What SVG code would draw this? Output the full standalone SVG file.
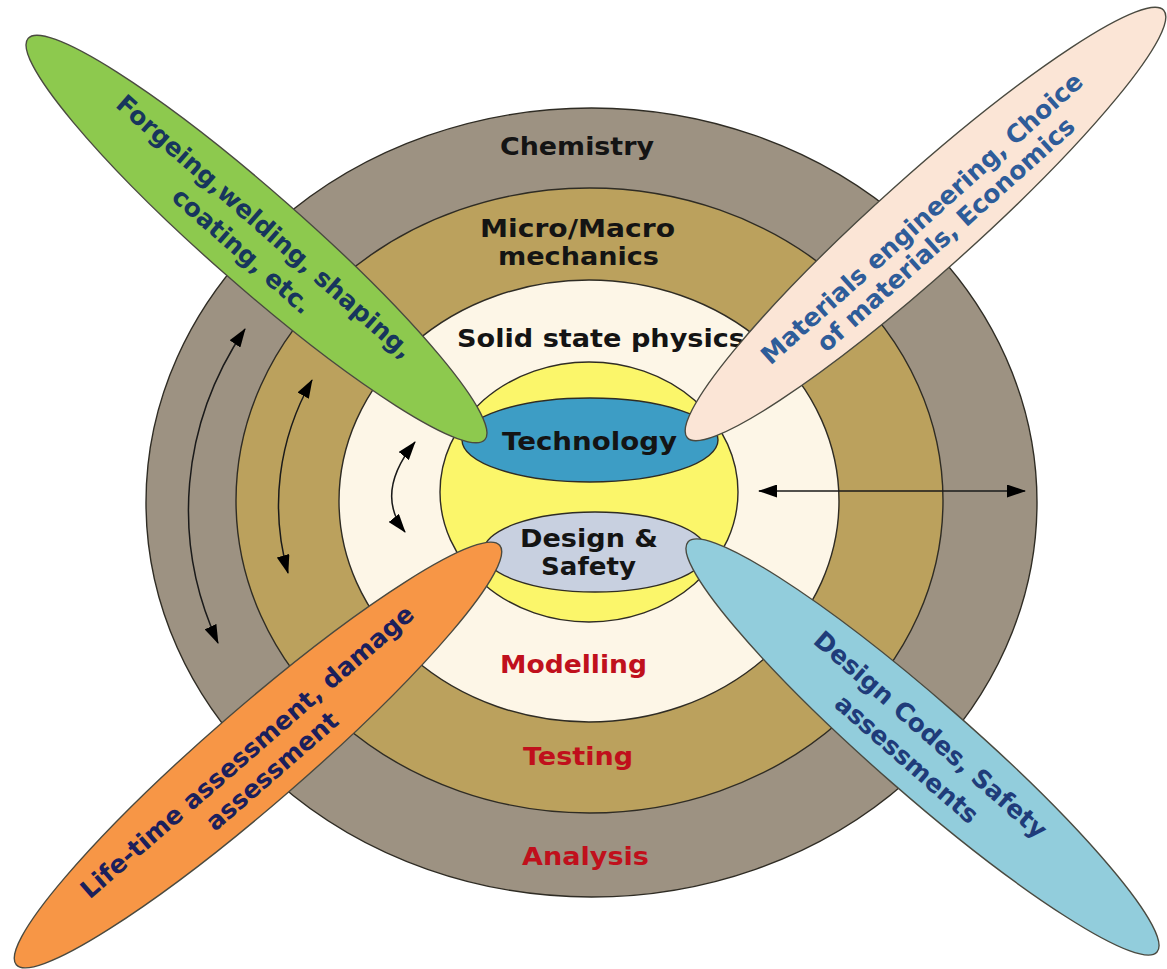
<svg xmlns="http://www.w3.org/2000/svg" width="1167" height="969" viewBox="0 0 1167 969">
  <style>
    .ring { stroke: #2f2c24; stroke-width: 1.4; }
    .lbl { font-family: "DejaVu Sans", Verdana, sans-serif; font-weight: bold; font-size: 25px; text-anchor: middle; }
    .dark { fill: #141414; }
    .red { fill: #c0101c; }
    .petal { stroke: #4a4a40; stroke-width: 1.4; }
    .ptxt { font-family: "DejaVu Sans", Verdana, sans-serif; font-weight: bold; font-size: 25px; text-anchor: middle; }
    .conn { fill: none; stroke: #1a1a1a; stroke-width: 1.5; }
  </style>
  <defs>
    <marker id="arrow" viewBox="0 0 19 13" refX="18" refY="6.5" markerWidth="19" markerHeight="13" markerUnits="userSpaceOnUse" orient="auto-start-reverse">
      <path d="M0,0 L19,6.5 L0,13 z" fill="#000"/>
    </marker>
  </defs>

  <rect width="1167" height="969" fill="#ffffff"/>

  <!-- concentric discipline rings -->
  <g id="ring-chemistry-analysis">
    <ellipse class="ring" cx="591.5" cy="502.5" rx="445.5" ry="394.5" fill="#9d9282"/>
  </g>
  <g id="ring-mechanics-testing">
    <ellipse class="ring" cx="589.5" cy="500.5" rx="353.5" ry="312.5" fill="#bba15d"/>
  </g>
  <g id="ring-physics-modelling">
    <ellipse class="ring" cx="589" cy="501" rx="250" ry="221" fill="#fdf6e7"/>
  </g>

  <g id="ring-labels">
    <text class="lbl dark" x="577" y="155" textLength="154" lengthAdjust="spacingAndGlyphs">Chemistry</text>
    <text class="lbl dark" x="577.5" y="237" textLength="195" lengthAdjust="spacingAndGlyphs">Micro/Macro</text>
    <text class="lbl dark" x="578.5" y="265" textLength="161" lengthAdjust="spacingAndGlyphs">mechanics</text>
    <text class="lbl dark" x="601" y="347" textLength="288" lengthAdjust="spacingAndGlyphs">Solid state physics</text>
    <text class="lbl red" x="573.5" y="673" textLength="147" lengthAdjust="spacingAndGlyphs">Modelling</text>
    <text class="lbl red" x="578" y="765" textLength="110" lengthAdjust="spacingAndGlyphs">Testing</text>
    <text class="lbl red" x="585.5" y="865" textLength="127" lengthAdjust="spacingAndGlyphs">Analysis</text>
  </g>

  <!-- two-way arrows between the rings -->
  <g id="connectors">
    <path class="conn" d="M245 329 A400 353 0 0 0 218 643" marker-start="url(#arrow)" marker-end="url(#arrow)"/>
    <path class="conn" d="M312 380 A318 280 0 0 0 288 573" marker-start="url(#arrow)" marker-end="url(#arrow)"/>
    <path class="conn" d="M415 442 Q374 493 405 532" marker-start="url(#arrow)" marker-end="url(#arrow)"/>
    <path class="conn" d="M759 491 L1025 491" marker-start="url(#arrow)" marker-end="url(#arrow)"/>
  </g>

  <!-- core -->
  <g id="core">
    <ellipse class="ring" cx="589" cy="492" rx="149" ry="130" fill="#fbf66a"/>
  </g>
  <g id="technology">
    <ellipse class="ring" cx="590" cy="440" rx="128" ry="42" fill="#3d9dc5"/>
    <text class="lbl dark" x="589.5" y="450" textLength="175" lengthAdjust="spacingAndGlyphs">Technology</text>
  </g>
  <g id="design-safety">
    <ellipse class="ring" cx="595" cy="552" rx="112" ry="40" fill="#c8d0e0"/>
    <text class="lbl dark" x="589" y="547" textLength="138" lengthAdjust="spacingAndGlyphs">Design &amp;</text>
    <text class="lbl dark" x="588.5" y="575" textLength="95" lengthAdjust="spacingAndGlyphs">Safety</text>
  </g>

  <!-- application petals -->
  <g id="petal-forging" transform="translate(256.5 239) rotate(41.3)">
    <ellipse class="petal" cx="0" cy="0" rx="304" ry="47" fill="#8dc94e"/>
    <text class="ptxt" fill="#17365d" x="-2" y="-6">Forgeing,welding, shaping,</text>
    <text class="ptxt" fill="#17365d" x="-3" y="27">coating, etc.</text>
  </g>
  <g id="petal-materials" transform="translate(925.5 224) rotate(-41.9)">
    <ellipse class="petal" cx="0" cy="0" rx="320" ry="48" fill="#fbe5d6"/>
    <text class="ptxt" fill="#2e5c99" x="1" y="2">Materials engineering, Choice</text>
    <text class="ptxt" fill="#2e5c99" x="8" y="30">of materials, Economics</text>
  </g>
  <g id="petal-lifetime" transform="translate(258 755) rotate(-40.95)">
    <ellipse class="petal" cx="0" cy="0" rx="320" ry="48" fill="#f79646"/>
    <text class="ptxt" fill="#1b1f5c" x="-6" y="-1" font-size="26">Life-time assessment, damage</text>
    <text class="ptxt" fill="#1b1f5c" x="0" y="30" font-size="26">assessment</text>
  </g>
  <g id="petal-codes" transform="translate(922.5 747) rotate(41.16)">
    <ellipse class="petal" cx="0" cy="0" rx="311.5" ry="47" fill="#92cddc"/>
    <text class="ptxt" fill="#1f3c7a" x="-2" y="-6">Design Codes, Safety</text>
    <text class="ptxt" fill="#1f3c7a" x="-4" y="28">assessments</text>
  </g>
</svg>
